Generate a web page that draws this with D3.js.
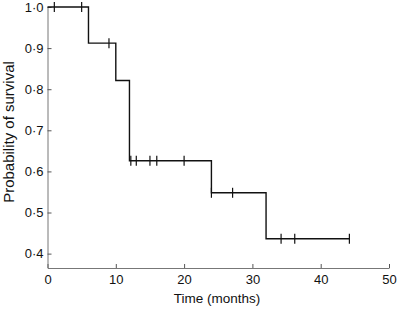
<!DOCTYPE html>
<html>
<head>
<meta charset="utf-8">
<script src="https://cdn.jsdelivr.net/npm/d3@7"></script>
<style>
  body { margin: 0; background: #fff; }
  text { font-family: "Liberation Sans", Arial, sans-serif; fill: #111; }
</style>
</head>
<body>
<script>
// Kaplan-Meier steps: time of each drop and survival after it
var stepTimes = [0, 6, 10, 12, 24, 32];
var stepSurv = [1.0, 0.912, 0.821, 0.626, 0.548, 0.436];
var endTime = 44.2;
// censored observations
var censorTimes = [1, 5, 9, 12.2, 13, 15, 16, 20, 24, 27.1, 34.2, 36.2, 44.2];
var xTicks = [0, 10, 20, 30, 40, 50];
var yTicks = [0.4, 0.5, 0.6, 0.7, 0.8, 0.9, 1.0];

var width = 400, height = 311;

var x = d3.scaleLinear().domain([0, 50]).range([47.5, 389]);
var y = d3.scaleLinear().domain([0.365, 1.0]).range([268, 7]);

var svg = d3.select("body").append("svg")
    .attr("width", width).attr("height", height);

// survival at time t
function survAt(t) {
    var s = stepSurv[0];
    for (var i = 0; i < stepTimes.length; i++) {
        if (stepTimes[i] <= t) s = stepSurv[i];
    }
    return s;
}

// axes
var xAxis = d3.axisBottom(x).tickValues(xTicks).tickSizeInner(-4).tickSizeOuter(0)
    .tickPadding(7).tickFormat(d3.format("d"));
var yAxis = d3.axisLeft(y).tickValues(yTicks).tickSizeInner(-4).tickSizeOuter(0)
    .tickPadding(4).tickFormat(function(d){ return d.toFixed(1).replace(".", "\u00b7"); });

var gx = svg.append("g").attr("transform", "translate(0," + y.range()[0] + ")").call(xAxis);
var gy = svg.append("g").attr("transform", "translate(" + x.range()[0] + ",0)").call(yAxis);

[gx, gy].forEach(function(g){
    g.select(".domain").attr("stroke", "#777").attr("stroke-width", 1);
    g.selectAll(".tick line").attr("stroke", "#555");
    g.selectAll(".tick text").attr("font-size", 13).attr("font-family", "Liberation Sans, Arial, sans-serif").attr("fill", "#111");
});

// step curve
var pts = [];
stepTimes.forEach(function(t, i){ pts.push([t, stepSurv[i]]); });
pts.push([endTime, stepSurv[stepSurv.length - 1]]);

var line = d3.line()
    .x(function(d){ return x(d[0]); })
    .y(function(d){ return y(d[1]); })
    .curve(d3.curveStepAfter);

svg.append("path")
    .attr("d", line(pts))
    .attr("fill", "none")
    .attr("stroke", "#111")
    .attr("stroke-width", 1.4);

// censor marks
svg.append("g").selectAll("line")
    .data(censorTimes)
    .enter().append("line")
    .attr("x1", function(d){ return x(d); })
    .attr("x2", function(d){ return x(d); })
    .attr("y1", function(d){ return y(survAt(d)) - 5; })
    .attr("y2", function(d){ return y(survAt(d)) + 5; })
    .attr("stroke", "#111")
    .attr("stroke-width", 1.2);

// axis titles
svg.append("text")
    .attr("x", 217).attr("y", 303)
    .attr("text-anchor", "middle")
    .attr("font-size", 13.5)
    .text("Time (months)");

svg.append("text")
    .attr("transform", "translate(14,132) rotate(-90)")
    .attr("text-anchor", "middle")
    .attr("font-size", 15)
    .text("Probability of survival");
</script>
</body>
</html>
